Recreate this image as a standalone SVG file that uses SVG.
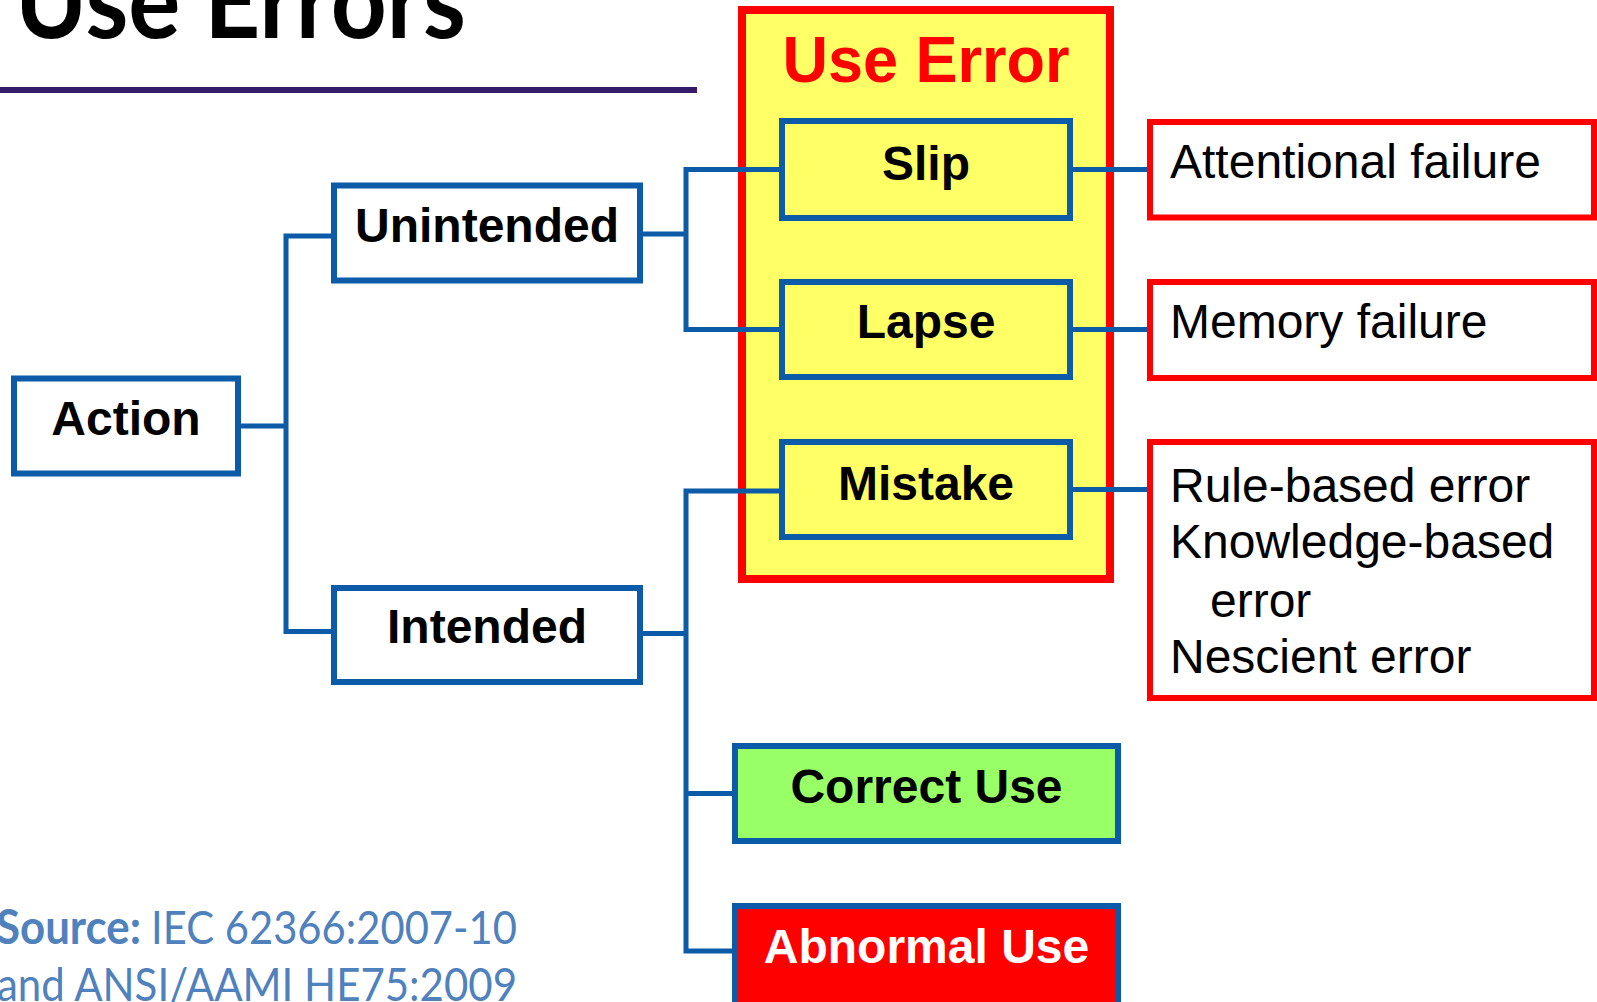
<svg xmlns="http://www.w3.org/2000/svg" width="1597" height="1002" viewBox="0 0 1597 1002">
  <style>
    .box { stroke: #0b5ba8; stroke-width: 6; }
    .white { fill: #ffffff; }
    .yellow { fill: #ffff66; }
    .green { fill: #99ff66; }
    .redfill { fill: #ff0000; }
    .note { fill: #ffffff; stroke: #ff0000; stroke-width: 6; }
    .lbl { font-family: "Liberation Sans", Arial, sans-serif; font-weight: bold; font-size: 48px; fill: #000000; text-anchor: middle; }
    .txt { font-family: "Liberation Sans", Arial, sans-serif; font-size: 48px; fill: #000000; }
    .src { font-family: Lato, "Open Sans", sans-serif; font-size: 47px; fill: #4f81bd; }
    .conn { fill: none; stroke: #0b5ba8; stroke-width: 5; }
  </style>

  <rect width="1597" height="1002" fill="#ffffff"/>

  <!-- slide title and rule -->
  <g id="title">
    <text x="15" y="38" font-family="Lato, 'Open Sans', sans-serif" font-weight="bold" font-size="106" fill="#000000" textLength="451" lengthAdjust="spacingAndGlyphs">Use Errors</text>
    <rect x="0" y="87" width="697" height="6" fill="#341c6a"/>
  </g>

  <!-- container grouping the three kinds of use error -->
  <g id="use-error">
    <rect x="742" y="10" width="368" height="569" fill="#ffff66" stroke="#ff0000" stroke-width="8"/>
    <text x="926" y="82" font-family="'Liberation Sans', Arial, sans-serif" font-weight="bold" font-size="64" fill="#ff0000" text-anchor="middle" textLength="287" lengthAdjust="spacingAndGlyphs">Use Error</text>
  </g>

  <!-- connectors -->
  <g id="connectors">
    <path class="conn" d="M237,426 H286"/>
    <path class="conn" d="M334,236 H286 V631.5 H334"/>
    <path class="conn" d="M640,234 H686"/>
    <path class="conn" d="M782,169.5 H686 V329.5 H782"/>
    <path class="conn" d="M640,633.5 H686"/>
    <path class="conn" d="M782,491 H686 V951 H735"/>
    <path class="conn" d="M686,793.5 H735"/>
    <path class="conn" d="M1070,169.5 H1150"/>
    <path class="conn" d="M1070,329.5 H1150"/>
    <path class="conn" d="M1070,489.5 H1150"/>
  </g>

  <g id="action">
    <rect class="box white" x="14" y="378.5" width="224" height="95"/>
    <text class="lbl" x="126" y="435">Action</text>
  </g>

  <g id="unintended">
    <rect class="box white" x="334" y="185.5" width="306" height="95"/>
    <text class="lbl" x="487" y="242">Unintended</text>
  </g>

  <g id="intended">
    <rect class="box white" x="334" y="588" width="306" height="94"/>
    <text class="lbl" x="487" y="643">Intended</text>
  </g>

  <g id="slip">
    <rect class="box yellow" x="782" y="121" width="288" height="97"/>
    <text class="lbl" x="926" y="180">Slip</text>
  </g>

  <g id="lapse">
    <rect class="box yellow" x="782" y="282" width="288" height="95"/>
    <text class="lbl" x="926" y="338">Lapse</text>
  </g>

  <g id="mistake">
    <rect class="box yellow" x="782" y="442" width="288" height="95"/>
    <text class="lbl" x="926" y="500">Mistake</text>
  </g>

  <g id="correct-use">
    <rect class="box green" x="735" y="746" width="383" height="95"/>
    <text class="lbl" x="926.5" y="803">Correct Use</text>
  </g>

  <g id="abnormal-use">
    <rect class="box redfill" x="735" y="906" width="383" height="110"/>
    <text class="lbl" x="926.5" y="963" style="fill:#ffffff">Abnormal Use</text>
  </g>

  <g id="attentional-failure">
    <rect class="note" x="1150" y="122" width="444" height="95.5"/>
    <text class="txt" x="1170" y="178">Attentional failure</text>
  </g>

  <g id="memory-failure">
    <rect class="note" x="1150" y="282" width="444" height="96"/>
    <text class="txt" x="1170" y="338">Memory failure</text>
  </g>

  <g id="mistake-types">
    <rect class="note" x="1150" y="442" width="444" height="256"/>
    <text class="txt" x="1170" y="502">Rule-based error</text>
    <text class="txt" x="1170" y="558">Knowledge-based</text>
    <text class="txt" x="1210" y="617">error</text>
    <text class="txt" x="1170" y="673">Nescient error</text>
  </g>

  <!-- reference standards -->
  <g id="source">
    <text class="src" x="-4" y="944" font-weight="bold" textLength="145" lengthAdjust="spacingAndGlyphs">Source:</text>
    <text class="src" x="151" y="944" textLength="366" lengthAdjust="spacingAndGlyphs">IEC 62366:2007-10</text>
    <text class="src" x="-3" y="1001" textLength="520" lengthAdjust="spacingAndGlyphs">and ANSI/AAMI HE75:2009</text>
  </g>
</svg>
